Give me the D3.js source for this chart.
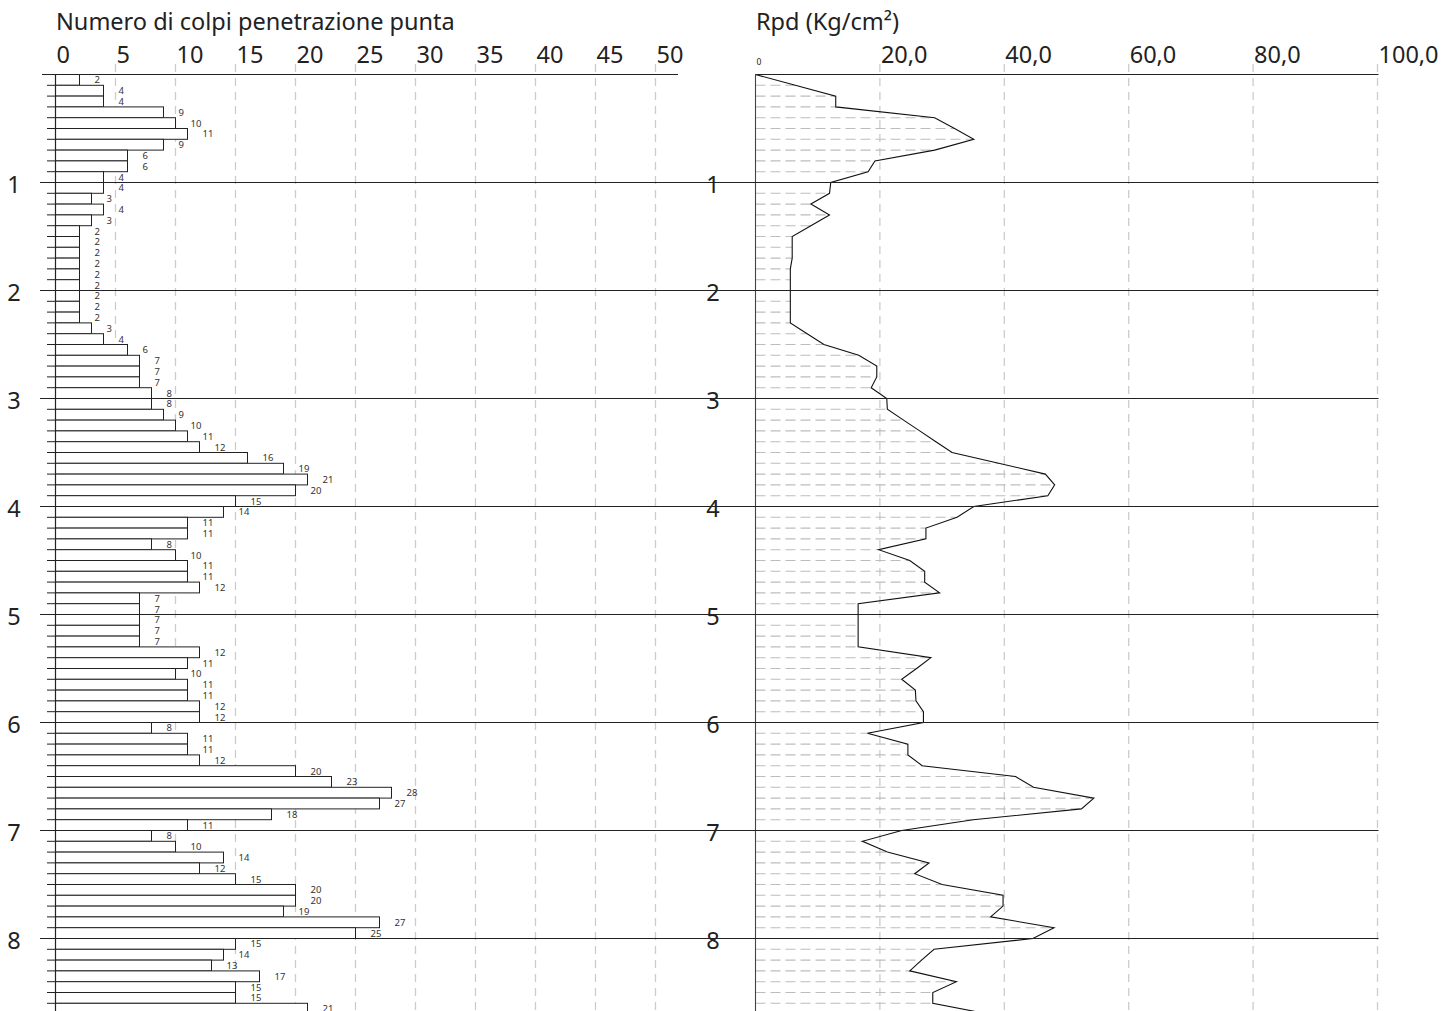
<!DOCTYPE html>
<html>
<head>
<meta charset="utf-8">
<script src="https://cdn.jsdelivr.net/npm/d3@7"></script>
<style>
  html, body { margin: 0; padding: 0; background: #fff; }
  svg { display: block; }
  text { font-family: "Noto Sans", "Open Sans", sans-serif; fill: #222; }
</style>
</head>
<body>
<svg id="chart" width="1446" height="1011"></svg>
<script>
// Penetration blows per 10 cm step (N) and dynamic point resistance Rpd (Kg/cm²)
const stepDepth = 0.1; // m per reading
const blows = [
  2, 4, 4, 9, 10, 11, 9, 6, 6, 4,
  4, 3, 4, 3, 2, 2, 2, 2, 2, 2,
  2, 2, 2, 3, 4, 6, 7, 7, 7, 8,
  8, 9, 10, 11, 12, 16, 19, 21, 20, 15,
  14, 11, 11, 8, 10, 11, 11, 12, 7, 7,
  7, 7, 7, 12, 11, 10, 11, 11, 12, 12,
  8, 11, 11, 12, 20, 23, 28, 27, 18, 11,
  8, 10, 14, 12, 15, 20, 20, 19, 27, 25,
  15, 14, 13, 17, 15, 15, 21
];
const rpd = [
  6.4, 12.9, 12.9, 28.8, 32.0, 35.1, 28.8, 19.2, 18.1, 12.1,
  11.9, 8.9, 11.9, 8.9, 5.9, 5.9, 5.9, 5.6, 5.6, 5.6,
  5.6, 5.6, 5.6, 8.3, 11.0, 16.6, 19.5, 19.5, 18.6, 21.1,
  21.2, 23.8, 26.4, 29.0, 31.6, 39.1, 46.6, 48.1, 47.0, 35.1,
  32.4, 27.4, 27.4, 19.8, 24.8, 27.2, 27.2, 29.6, 16.5, 16.5,
  16.5, 16.5, 16.5, 28.2, 25.9, 23.5, 25.7, 25.8, 27.0, 27.0,
  18.0, 24.5, 24.5, 26.8, 41.8, 44.7, 54.4, 52.4, 35.0, 23.5,
  17.2, 21.2, 27.9, 25.6, 30.0, 39.8, 39.8, 37.8, 48.0, 44.6,
  28.7, 26.7, 24.8, 32.3, 28.5, 28.5, 37.5
];
const blowTicks = [0, 5, 10, 15, 20, 25, 30, 35, 40, 45, 50];
const rpdTicks = [20, 40, 60, 80, 100];
const depthTicks = [1, 2, 3, 4, 5, 6, 7, 8];
const blowTitle = "Numero di colpi penetrazione punta";
const rpdTitle = "Rpd (Kg/cm²)";

const svg = d3.select("#chart");
const W = 1446, H = 1011;

// Scales
const y = d3.scaleLinear().domain([0, 8]).range([74.5, 938.5]);
const xN = d3.scaleLinear().domain([0, 50]).range([55.5, 655.5]);
const xR = d3.scaleLinear().domain([0, 100]).range([755.5, 1377.5]);
const itFmt = d3.formatLocale({ decimal: ",", thousands: ".", grouping: [3], currency: ["€", ""] }).format(".1f");

const nSteps = blows.length;

// ---------- Left panel: blow counts ----------
const left = svg.append("g");

// dashed vertical grid
left.selectAll("line.vgrid").data(blowTicks.slice(1)).join("line")
  .attr("x1", d => xN(d)).attr("x2", d => xN(d))
  .attr("y1", 64).attr("y2", H)
  .attr("stroke", "#cccccc").attr("stroke-width", 1.3).attr("stroke-dasharray", "8,6");

// bars
left.selectAll("rect.bar").data(blows).join("rect")
  .attr("x", xN(0))
  .attr("y", (d, i) => y(i * stepDepth))
  .attr("width", d => xN(d) - xN(0))
  .attr("height", y(stepDepth) - y(0))
  .attr("fill", "#fff").attr("stroke", "#222").attr("stroke-width", 1);

// value labels
left.selectAll("text.val").data(blows).join("text")
  .attr("x", d => xN(d) + 15)
  .attr("y", (d, i) => y((i + 0.5) * stepDepth))
  .attr("dominant-baseline", "central")
  .attr("font-size", 9.5).style("fill", "#333")
  .text(d => d);

// step ticks on the left of the baseline
left.selectAll("line.step").data(d3.range(nSteps + 1)).join("line")
  .attr("x1", 47).attr("x2", xN(0))
  .attr("y1", i => y(i * stepDepth)).attr("y2", i => y(i * stepDepth))
  .attr("stroke", "#222").attr("stroke-width", 1);

// baseline and top axis
left.append("line").attr("x1", xN(0)).attr("x2", xN(0)).attr("y1", y(0)).attr("y2", H)
  .attr("stroke", "#222").attr("stroke-width", 1.2);
left.append("line").attr("x1", 42).attr("x2", 678).attr("y1", y(0)).attr("y2", y(0))
  .attr("stroke", "#222").attr("stroke-width", 1.2);

// top tick labels
left.selectAll("text.tick").data(blowTicks).join("text")
  .attr("x", d => xN(d) + 1).attr("y", 63)
  .attr("font-size", 23.5)
  .text(d => d);

left.append("text").attr("x", 56).attr("y", 30).attr("font-size", 23.5).text(blowTitle);

// ---------- Right panel: Rpd ----------
const right = svg.append("g");

right.selectAll("line.vgrid").data(rpdTicks).join("line")
  .attr("x1", d => xR(d)).attr("x2", d => xR(d))
  .attr("y1", 64).attr("y2", H)
  .attr("stroke", "#cccccc").attr("stroke-width", 1.3).attr("stroke-dasharray", "8,6");

const pts = [[0, 0]].concat(rpd.map((v, i) => [v, (i + 1) * stepDepth]));
const areaPath = d3.area().x0(xR(0)).x1(d => xR(d[0])).y(d => y(d[1]))(pts);

svg.append("defs").append("clipPath").attr("id", "rpdArea")
  .append("path").attr("d", areaPath);

// hatch under the curve
right.append("g").attr("clip-path", "url(#rpdArea)")
  .selectAll("line").data(d3.range(1, nSteps + 1)).join("line")
  .attr("x1", xR(0)).attr("x2", xR(100))
  .attr("y1", i => y(i * stepDepth)).attr("y2", i => y(i * stepDepth))
  .attr("stroke", "#bdbdbd").attr("stroke-width", 1.1).attr("stroke-dasharray", "10,5");

right.append("path")
  .attr("d", d3.line().x(d => xR(d[0])).y(d => y(d[1]))(pts))
  .attr("fill", "none").attr("stroke", "#111").attr("stroke-width", 1.1);

right.append("line").attr("x1", xR(0)).attr("x2", xR(0)).attr("y1", y(0)).attr("y2", H)
  .attr("stroke", "#444").attr("stroke-width", 1.1);
right.append("line").attr("x1", xR(0)).attr("x2", xR(100) + 1).attr("y1", y(0)).attr("y2", y(0))
  .attr("stroke", "#222").attr("stroke-width", 1.2);

right.selectAll("text.tick").data(rpdTicks).join("text")
  .attr("x", d => xR(d) + 1).attr("y", 63)
  .attr("font-size", 23.5)
  .text(d => itFmt(d));
right.append("text").attr("x", xR(0) + 1).attr("y", 65).attr("font-size", 8.5).text("0");

right.append("text").attr("x", 756).attr("y", 30).attr("font-size", 23.5).text(rpdTitle);

// ---------- Depth lines (m) across both panels ----------
const depth = svg.append("g");
depth.selectAll("line").data(depthTicks).join("line")
  .attr("x1", 40).attr("x2", xR(100) + 1)
  .attr("y1", d => y(d)).attr("y2", d => y(d))
  .attr("stroke", "#222").attr("stroke-width", 1.1);
depth.selectAll("text.l").data(depthTicks).join("text")
  .attr("x", 14).attr("y", d => y(d) + 1)
  .attr("text-anchor", "middle").attr("dominant-baseline", "central")
  .attr("font-size", 23.5).text(d => d);
depth.selectAll("text.r").data(depthTicks).join("text")
  .attr("x", 713).attr("y", d => y(d) + 1)
  .attr("text-anchor", "middle").attr("dominant-baseline", "central")
  .attr("font-size", 23.5).text(d => d);
</script>
</body>
</html>
